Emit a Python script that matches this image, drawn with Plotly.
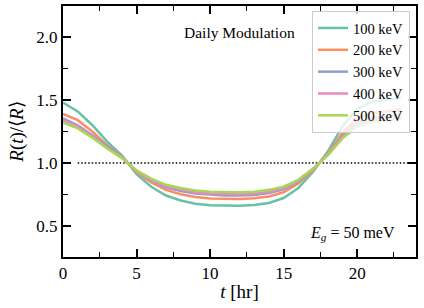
import plotly.graph_objects as go

hours = list(range(24))
labels = ["100 keV", "200 keV", "300 keV", "400 keV", "500 keV"]
colors = ["#66c2a5", "#fc8d62", "#8da0cb", "#e78ac3", "#a6d854"]
r100 = [1.48, 1.41, 1.30, 1.17, 1.06, 0.91, 0.81, 0.74, 0.70, 0.675, 0.662, 0.658, 0.658, 0.665, 0.68, 0.72, 0.80, 0.93, 1.09, 1.29, 1.43, 1.49, 1.50, 1.52]
r200 = [1.39, 1.34, 1.25, 1.14, 1.05, 0.925, 0.845, 0.785, 0.75, 0.728, 0.717, 0.712, 0.712, 0.718, 0.732, 0.766, 0.835, 0.94, 1.075, 1.24, 1.355, 1.40, 1.41, 1.43]
r300 = [1.355, 1.30, 1.22, 1.13, 1.045, 0.935, 0.86, 0.805, 0.775, 0.755, 0.745, 0.74, 0.74, 0.745, 0.76, 0.79, 0.85, 0.95, 1.065, 1.215, 1.32, 1.36, 1.37, 1.385]
r400 = [1.34, 1.29, 1.21, 1.12, 1.04, 0.935, 0.865, 0.815, 0.785, 0.765, 0.755, 0.75, 0.75, 0.755, 0.77, 0.80, 0.86, 0.95, 1.065, 1.205, 1.305, 1.345, 1.355, 1.37]
r500 = [1.32, 1.275, 1.20, 1.115, 1.04, 0.94, 0.875, 0.825, 0.80, 0.78, 0.77, 0.765, 0.765, 0.77, 0.785, 0.81, 0.865, 0.955, 1.06, 1.195, 1.29, 1.33, 1.34, 1.35]
series = [r100, r200, r300, r400, r500]
ref_x = [1, 24]
ref_y = [1.0, 1.0]

FONT = "Liberation Serif"
fig = go.Figure()
fig.add_trace(go.Scatter(x=ref_x, y=ref_y, mode="lines", showlegend=False,
                         line=dict(color="black", width=1.5, dash="1.5px,2px"), hoverinfo="skip"))
for lab, col, ys in zip(labels, colors, series):
    fig.add_trace(go.Scatter(x=hours, y=ys, mode="lines", name=lab,
                             line=dict(color=col, width=2.5)))

axis_common = dict(showline=True, linecolor="black", linewidth=2, mirror="ticks",
                   ticks="inside", ticklen=8, tickwidth=1.5, tickcolor="black",
                   showgrid=False, zeroline=False, automargin=False,
                   tickfont=dict(family=FONT, size=17, color="black"))
fig.update_xaxes(range=[0, 24], dtick=5, tick0=0,
                 minor=dict(ticks="inside", ticklen=5, tickwidth=1.2, dtick=2.5, tick0=0, tickcolor="black"),
                 title=dict(text="<i>t</i> [hr]", font=dict(family=FONT, size=19, color="black"), standoff=2),
                 **axis_common)
fig.update_yaxes(range=[0.25, 2.25], dtick=0.5, tick0=0,
                 tickformat=".1f",
                 minor=dict(ticks="inside", ticklen=5, tickwidth=1.2, dtick=0.25, tick0=0, tickcolor="black"),
                 title=dict(text="<i>R</i>(<i>t</i>)/⟨<i>R</i>⟩", font=dict(family=FONT, size=19, color="black"), standoff=8),
                 **axis_common)

fig.add_annotation(x=0.5, y=0.895, xref="paper", yref="paper", text="Daily Modulation",
                   showarrow=False, xanchor="center", yanchor="middle",
                   font=dict(family=FONT, size=15.5, color="black"))
fig.add_annotation(x=0.945, y=0.095, xref="paper", yref="paper",
                   text="<i>E</i><sub><i>g</i></sub> = 50 meV",
                   showarrow=False, xanchor="right", yanchor="middle",
                   font=dict(family=FONT, size=16, color="black"))

fig.update_layout(width=424, height=308, margin=dict(l=63, r=8, t=6, b=51),
                  paper_bgcolor="white", plot_bgcolor="white",
                  font=dict(family=FONT, color="black"),
                  legend=dict(x=0.983, y=0.98, xanchor="right", yanchor="top",
                              bgcolor="rgba(255,255,255,0.8)", bordercolor="#cccccc", borderwidth=1,
                              font=dict(family=FONT, size=14.5, color="black")))
fig.write_html("out.html", config={"displayModeBar": False},
               post_script="document.body.style.margin='0';")
